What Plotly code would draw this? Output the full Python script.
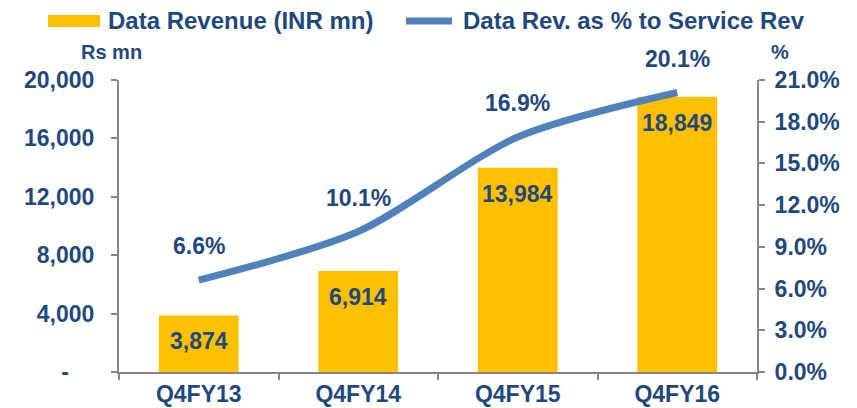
import plotly.graph_objects as go

quarters = ["Q4FY13", "Q4FY14", "Q4FY15", "Q4FY16"]
data_revenue = [3874, 6914, 13984, 18849]
data_share_pct = [6.6, 10.1, 16.9, 20.1]

left_ticks = [0, 4000, 8000, 12000, 16000, 20000]
left_tick_text = ["-<span style='color:white'>__</span>", "4,000", "8,000",
                  "12,000", "16,000", "20,000"]
right_ticks = [0, 3, 6, 9, 12, 15, 18, 21]

bar_name = "Data Revenue (INR mn)"
line_name = "Data Rev. as % to Service Rev"

NAVY = "#1F497D"
GOLD = "#FFC000"
BLUE = "#4F81BD"
AXIS = "#868686"
FONT = "Liberation Sans, Arial, sans-serif"

# plot area in pixels: x 119..757, y 80..372
W, H = 857, 408
L, R, T, B = 119, 100, 80, 36
PW, PH = W - L - R, H - T - B


def px(x):
    return (x - L) / PW


def py(y):
    return (H - B - y) / PH


def bold(size):
    return dict(size=size, color=NAVY, family=FONT, weight="bold")


def paper_text(x, y, text, size, anchor="center"):
    fig.add_annotation(x=px(x), y=py(y), xref="paper", yref="paper",
                       xanchor=anchor, yanchor="middle", text=text,
                       showarrow=False, font=bold(size))


fig = go.Figure()

fig.add_trace(
    go.Bar(
        x=quarters,
        y=data_revenue,
        name=bar_name,
        marker=dict(color=GOLD, line=dict(width=0)),
        width=0.5,
        yaxis="y",
    )
)

fig.add_trace(
    go.Scatter(
        x=quarters,
        y=data_share_pct,
        name=line_name,
        mode="lines",
        line=dict(color=BLUE, width=7, shape="spline", smoothing=0.8),
        yaxis="y2",
    )
)

# value labels
for q, v in zip(quarters, data_revenue):
    fig.add_annotation(x=q, y=v, yref="y", text=f"{v:,}", showarrow=False,
                       yanchor="middle", yshift=-26, font=bold(23))
for q, p in zip(quarters, data_share_pct):
    fig.add_annotation(x=q, y=p, yref="y2", text=f"{p:.1f}%", showarrow=False,
                       yanchor="middle", yshift=34, font=bold(23))

# unit labels above the axes
paper_text(111, 52, "Rs mn", 20)
paper_text(780, 52, "%", 20)

# legend drawn by hand (wide swatches like the original)
fig.add_shape(type="rect", xref="paper", yref="paper",
              x0=px(48), x1=px(100), y0=py(27), y1=py(15),
              fillcolor=GOLD, line=dict(width=0))
fig.add_shape(type="line", xref="paper", yref="paper",
              x0=px(406), x1=px(452), y0=py(21), y1=py(21),
              line=dict(color=BLUE, width=7))
paper_text(106, 21, bar_name, 24, "left")
paper_text(461, 21, line_name, 24, "left")

axis_common = dict(
    showline=True, linecolor=AXIS, linewidth=2,
    ticks="outside", ticklen=6, tickcolor=AXIS, tickwidth=2,
    tickfont=bold(23), showgrid=False, zeroline=False,
)

fig.update_layout(
    width=W,
    height=H,
    margin=dict(l=L, r=R, t=T, b=B, autoexpand=False),
    paper_bgcolor="white",
    plot_bgcolor="white",
    font=bold(22),
    showlegend=False,
    xaxis=dict(axis_common, tickson="boundaries"),
    yaxis=dict(axis_common, range=[0, 20000], tickvals=left_ticks,
               ticktext=left_tick_text, ticklabelstandoff=12),
    yaxis2=dict(
        axis_common,
        range=[0, 21],
        tickvals=right_ticks,
        ticktext=[f"{t:.1f}%" for t in right_ticks],
        overlaying="y",
        side="right",
        ticklabelstandoff=5,
    ),
)

# drop the default page margin so the figure sits at the window corner
fig.write_html(
    "out.html",
    config={"displayModeBar": False},
    post_script="document.body.style.margin='0';",
)
